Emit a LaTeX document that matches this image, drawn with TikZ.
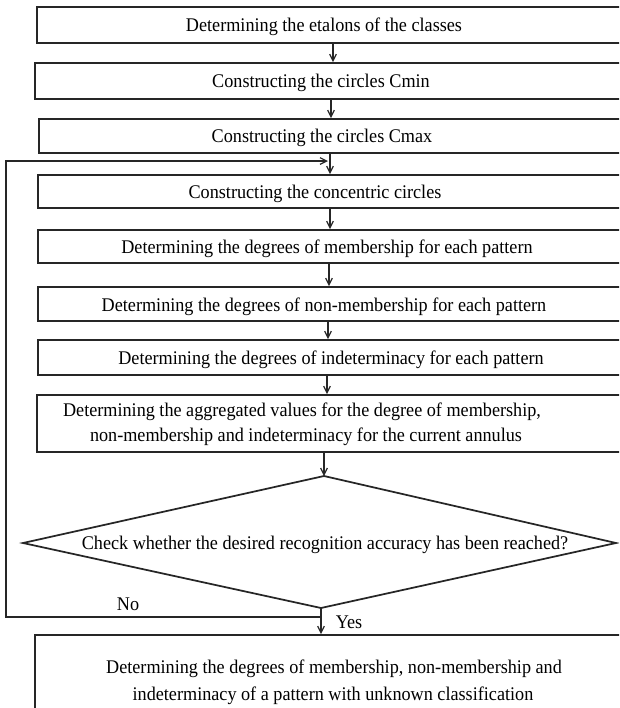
\documentclass[tikz,border=0pt]{standalone}
\usepackage{fontspec}
\setmainfont{Liberation Serif}[FakeStretch=0.94]
\usetikzlibrary{arrows.meta,fit}
\begin{document}
\begin{tikzpicture}[x=0.75pt,y=-0.75pt,
  box/.style={draw=black!85,line width=1.3pt,inner sep=0pt},
  lbl/.style={font=\fontsize{14.5}{19}\selectfont,inner sep=0pt,align=center,yshift=-1.2pt},
  arr/.style={draw=black!85,line width=1.1pt,-{Straight Barb[length=5pt,width=5pt,line width=0.9pt]}},
  line/.style={draw=black!85,line width=1.1pt}]
\useasboundingbox (0,0) rectangle (619,708);
\clip (0,0) rectangle (619,708);
% boxes
\node[box,fit={(37,7) (625,43)}] (b1) {};
\node[box,fit={(35,63) (625,99)}] (b2) {};
\node[box,fit={(39,119) (625,153)}] (b3) {};
\node[box,fit={(38,175) (625,208)}] (b4) {};
\node[box,fit={(38,230) (625,263)}] (b5) {};
\node[box,fit={(38,287) (625,321)}] (b6) {};
\node[box,fit={(38,340) (625,375)}] (b7) {};
\node[box,fit={(37,395) (625,452)}] (b8) {};
\node[box,fit={(35,635) (625,730)}] (b9) {};
% texts
\node[lbl] (t1) at (324,25) {Determining the etalons of the classes};
\node[lbl] (t2) at (321,81) {Constructing the circles Cmin};
\node[lbl] (t3) at (322,136) {Constructing the circles Cmax};
\node[lbl] (t4) at (315,192) {Constructing the concentric circles};
\node[lbl] (t5) at (327,247) {Determining the degrees of membership for each pattern};
\node[lbl] (t6) at (324,305) {Determining the degrees of non-membership for each pattern};
\node[lbl] (t7) at (331,358) {Determining the degrees of indeterminacy for each pattern};
\node[lbl] (t8a) at (302,410) {Determining the aggregated values for the degree of membership,};
\node[lbl] (t8b) at (306,435) {non-membership and indeterminacy for the current annulus};
\node[lbl] (t9a) at (334,667) {Determining the degrees of membership, non-membership and};
\node[lbl] (t9b) at (333,694) {indeterminacy of a pattern with unknown classification};
% diamond
\coordinate (dT) at (324,476);
\coordinate (dR) at (616,543);
\coordinate (dB) at (321,608);
\coordinate (dL) at (23,543);
\draw[line,line width=1.3pt,line join=miter] (dT) -- (dR) -- (dB) -- (dL) -- cycle;
\node[lbl] (td) at (325,543) {Check whether the desired recognition accuracy has been reached?};
% arrows
\draw[arr] (b1.south -| 333,0) -- (b2.north -| 333,0);
\draw[arr] (b2.south -| 331,0) -- (b3.north -| 331,0);
\draw[arr] (b3.south -| 330,0) -- (b4.north -| 330,0);
\draw[arr] (b4.south -| 330,0) -- (b5.north -| 330,0);
\draw[arr] (b5.south -| 329,0) -- (b6.north -| 329,0);
\draw[arr] (b6.south -| 328,0) -- (b7.north -| 328,0);
\draw[arr] (b7.south -| 327,0) -- (b8.north -| 327,0);
\draw[arr] (b8.south -| dT) -- (dT);
\draw[arr] (dB) -- (b9.north -| dB);
% loop
\coordinate (split) at (321,617);
\coordinate (loopin) at (328,161);
\draw[arr] (split) -- (6,617) -- (6,161) -- (loopin);
\node[lbl] (no) at (128,603) {No};
\node[lbl] (yes) at (349,621) {Yes};
\end{tikzpicture}
\end{document}
